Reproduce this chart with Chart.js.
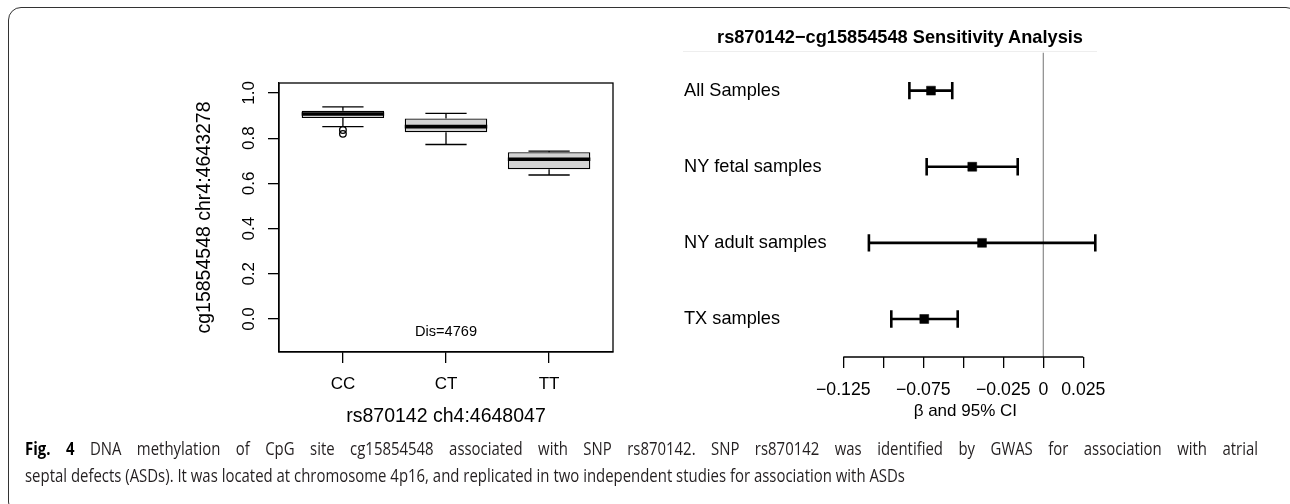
<!DOCTYPE html>
<html><head><meta charset="utf-8">
<script src="https://cdn.jsdelivr.net/npm/chart.js@4.4.1/dist/chart.umd.min.js"></script>
<style>
html,body{margin:0;padding:0;background:#fff;width:1290px;height:504px;overflow:hidden;position:relative;}
#frame{position:absolute;left:8px;top:7px;width:1291px;height:508px;border:1.5px solid #333;border-radius:13px;box-sizing:border-box;}
canvas{position:absolute;left:0;top:0;}
#ptitle{position:absolute;left:700px;width:400px;top:26.6px;text-align:center;font-family:'Liberation Sans',Arial,Helvetica,sans-serif;font-weight:bold;font-size:18.2px;line-height:20px;color:#000;white-space:nowrap;}
#faint{position:absolute;left:683px;top:51px;width:414px;height:0;border-top:1px solid #eeeeee;}
#cap{position:absolute;left:25px;top:434px;font-family:'Open Sans',sans-serif;font-size:18.5px;line-height:27px;color:#231f20;white-space:nowrap;transform-origin:0 0;}
#cap b{font-weight:bold;color:#000;}
.ln{display:inline-block;}
</style>
</head><body>
<div id="frame"></div>
<div id="faint"></div>
<canvas id="c1" width="1290" height="504"></canvas>
<canvas id="c2" width="1290" height="504"></canvas>
<div id="ptitle">rs870142−cg15854548 Sensitivity Analysis</div>
<div id="cap"><span class="ln" id="l1"><b>Fig. 4</b> DNA methylation of CpG site cg15854548 associated with SNP rs870142. SNP rs870142 was identified by GWAS for association with atrial</span><br><span class="ln" id="l2">septal defects (ASDs). It was located at chromosome 4p16, and replicated in two independent studies for association with ASDs</span></div>
<script>
// ---------- Box plot data ----------
const groups = ['CC', 'CT', 'TT'];
const whiskerLow  = [0.851, 0.772, 0.637];
const q1          = [0.889, 0.826, 0.663];
const median      = [0.907, 0.851, 0.707];
const q3          = [0.921, 0.887, 0.738];
const whiskerHigh = [0.938, 0.910, 0.743];
const outlierGroup  = [1, 1];
const outlierValues = [0.836, 0.819];
const yTicksLeft = [0.0, 0.2, 0.4, 0.6, 0.8, 1.0];
const leftXTitle = 'rs870142 ch4:4648047';
const leftYTitle = 'cg15854548 chr4:4643278';
const boxNote = 'Dis=4769';
const boxNoteAt = [2, -0.056];

// ---------- Forest plot data ----------
const studies = ['All Samples', 'NY fetal samples', 'NY adult samples', 'TX samples'];
const beta   = [-0.0702, -0.0444, -0.0383, -0.0744];
const ciLow  = [-0.0837, -0.0729, -0.1090, -0.0950];
const ciHigh = [-0.0569, -0.0160,  0.0325, -0.0535];
const refValue = 0;
const xTicksRight = [-0.125, -0.1, -0.075, -0.05, -0.025, 0, 0.025];
const xTickLabelsRight = ['\u22120.125', '', '\u22120.075', '', '\u22120.025', '0', '0.025'];
const rightXTitle = '\u03b2 and 95% CI';

const F = "'Liberation Sans', Arial, Helvetica, sans-serif";
Chart.defaults.font.family = F;
Chart.defaults.color = '#000';
Chart.defaults.animation = false;
Chart.defaults.events = [];

// ----- derived datasets for box plot -----
const pos = groups.map((g, i) => i + 1);
const boxData = pos.map((x, i) => ({x, y: [q1[i], q3[i]]}));
const whiskerData = [];
pos.forEach((x, i) => {
  whiskerData.push({x, y: q3[i]}, {x, y: whiskerHigh[i]}, {x, y: null});
  whiskerData.push({x, y: q1[i]}, {x, y: whiskerLow[i]}, {x, y: null});
});
const capData = [];
pos.forEach((x, i) => { capData.push({x, y: whiskerLow[i]}, {x, y: whiskerHigh[i]}); });
const medianData = pos.map((x, i) => ({x, y: median[i]}));
const outlierData = outlierGroup.map((g, i) => ({x: g, y: outlierValues[i]}));

const unitPx = (ctx, u) => {
  const s = ctx.chart.scales.x;
  return Math.abs(s.getPixelForValue(1 + u) - s.getPixelForValue(1));
};

const framePlugin = {
  id: 'frameBox',
  afterDatasetsDraw(chart) {
    const {ctx, chartArea: a, scales} = chart;
    ctx.save();
    ctx.strokeStyle = '#000'; ctx.lineWidth = 1.3;
    ctx.strokeRect(a.left, a.top, a.right - a.left, a.bottom - a.top);
    ctx.fillStyle = '#000';
    ctx.font = '14.6px ' + F;
    ctx.textAlign = 'center'; ctx.textBaseline = 'middle';
    ctx.fillText(boxNote, scales.x.getPixelForValue(boxNoteAt[0]), scales.y.getPixelForValue(boxNoteAt[1]));
    ctx.restore();
  }
};

new Chart(document.getElementById('c1'), {
  type: 'bar',
  data: {
    datasets: [
      {type: 'bar', data: boxData, backgroundColor: '#d3d3d3', borderColor: '#000', borderWidth: 1.3,
       borderSkipped: false, barPercentage: 1, categoryPercentage: 0.8, grouped: false, order: 3},
      {type: 'line', data: whiskerData, borderColor: '#000', borderWidth: 1.3, pointRadius: 0, spanGaps: false, order: 4},
      {type: 'scatter', data: capData, pointStyle: 'line', pointRadius: ctx => unitPx(ctx, 0.2),
       borderColor: '#000', pointBorderColor: '#000', pointBorderWidth: 1.3, order: 2},
      {type: 'scatter', data: medianData, pointStyle: 'line', pointRadius: ctx => unitPx(ctx, 0.4),
       borderColor: '#000', pointBorderColor: '#000', pointBorderWidth: 3.6, order: 1},
      {type: 'scatter', data: outlierData, pointStyle: 'circle', pointRadius: 3.3,
       pointBackgroundColor: 'rgba(0,0,0,0)', pointBorderColor: '#000', pointBorderWidth: 1.3, order: 0}
    ]
  },
  options: {
    responsive: false,
    devicePixelRatio: 1,
    layout: {padding: {left: 180, right: 677, top: 83, bottom: 72}},
    plugins: {legend: {display: false}, tooltip: {enabled: false}},
    scales: {
      x: {
        type: 'linear', min: 0.38, max: 3.62, offset: false,
        afterBuildTicks: s => { s.ticks = pos.map(v => ({value: v})); },
        afterFit: s => { s.height = 80; },
        ticks: {callback: v => groups[Math.round(v) - 1], font: {size: 17}, color: '#000', padding: 10.8, autoSkip: false, maxRotation: 0},
        grid: {offset: false, drawOnChartArea: false, drawTicks: true, tickLength: 11, color: '#000', lineWidth: 1.3},
        border: {display: true, color: '#000', width: 1.3},
        title: {display: true, text: leftXTitle, font: {size: 19.5}, color: '#000', padding: {top: 0, bottom: 3.3}}
      },
      y: {
        type: 'linear', min: -0.146, max: 1.044, beginAtZero: false,
        afterBuildTicks: s => { s.ticks = yTicksLeft.map(v => ({value: v})); },
        afterFit: s => { s.width = 99; },
        ticks: {callback: v => v.toFixed(1), minRotation: 90, maxRotation: 90, crossAlign: 'center', padding: 7.2, font: {size: 17}, color: '#000'},
        grid: {drawOnChartArea: false, drawTicks: true, tickLength: 11, color: '#000', lineWidth: 1.3},
        border: {display: true, color: '#000', width: 1.3},
        title: {display: true, text: leftYTitle, font: {size: 19.5}, color: '#000', padding: {top: 13.3, bottom: 0}}
      }
    }
  },
  plugins: [framePlugin]
});

// ----- forest plot -----
const rows = studies.map((s, i) => i + 1);
const rowRange = [0.5, studies.length + 0.5];
const zeroLine = rowRange.map(y => ({x: refValue, y}));
const ciData = [];
rows.forEach((r, i) => { ciData.push({x: ciLow[i], y: r}, {x: ciHigh[i], y: r}, {x: null, y: null}); });
const ciCaps = [];
rows.forEach((r, i) => { ciCaps.push({x: ciLow[i], y: r}, {x: ciHigh[i], y: r}); });
const estData = rows.map((r, i) => ({x: beta[i], y: r}));

const axisLinePlugin = {
  id: 'axisLine',
  afterDraw(chart) {
    const {ctx, chartArea: a, scales: {x}} = chart;
    ctx.save();
    ctx.strokeStyle = '#000'; ctx.lineWidth = 1.3;
    ctx.beginPath();
    ctx.moveTo(x.getPixelForValue(xTicksRight[0]), a.bottom);
    ctx.lineTo(x.getPixelForValue(xTicksRight[xTicksRight.length - 1]), a.bottom);
    ctx.stroke();
    ctx.restore();
  }
};

new Chart(document.getElementById('c2'), {
  type: 'scatter',
  data: {
    datasets: [
      {type: 'line', data: zeroLine, borderColor: '#8a8a8a', borderWidth: 1.2, pointRadius: 0, order: 5},
      {type: 'line', data: ciData, borderColor: '#000', borderWidth: 2.6, pointRadius: 0, spanGaps: false, order: 3},
      {type: 'scatter', data: ciCaps, pointStyle: 'line', rotation: 90, pointRadius: 8.7,
       borderColor: '#000', pointBorderColor: '#000', pointBorderWidth: 2.6, order: 2},
      {type: 'scatter', data: estData, pointStyle: 'rect', pointRadius: 6.3,
       pointBackgroundColor: '#000', pointBorderColor: '#000', pointBorderWidth: 0.5, order: 1}
    ]
  },
  options: {
    responsive: false,
    devicePixelRatio: 1,
    layout: {padding: {left: 684, right: 188.3, top: 52.6, bottom: 67}},
    plugins: {legend: {display: false}, tooltip: {enabled: false}},
    scales: {
      x: {
        type: 'linear', min: -0.134, max: 0.0365,
        afterBuildTicks: s => { s.ticks = xTicksRight.map(v => ({value: v})); },
        afterFit: s => { s.height = 80; },
        ticks: {callback: (v, i) => xTickLabelsRight[i], autoSkip: false, maxRotation: 0, font: {size: 17.7}, color: '#000', padding: 11.4},
        grid: {drawOnChartArea: false, drawTicks: true, tickLength: 11, color: '#000', lineWidth: 1.3},
        border: {display: false},
        title: {display: true, text: rightXTitle, font: {size: 17}, color: '#000', padding: {top: 0, bottom: 15.8}}
      },
      y: {
        type: 'linear', reverse: true, min: rowRange[0], max: rowRange[1],
        afterBuildTicks: s => { s.ticks = rows.map(v => ({value: v})); },
        afterFit: s => { s.width = 144.9; },
        ticks: {callback: v => studies[Math.round(v) - 1], crossAlign: 'far', font: {size: 18.2}, color: '#000', autoSkip: false},
        grid: {display: false},
        border: {display: false}
      }
    }
  },
  plugins: [axisLinePlugin]
});

// caption: condensed face; last line sets the width, first line justified to full measure
(function () {
  const cap = document.getElementById('cap');
  const l1 = document.getElementById('l1');
  const l2 = document.getElementById('l2');
  const w1 = l1.getBoundingClientRect().width;
  const w2 = l2.getBoundingClientRect().width;
  const s = 880 / w2;
  const spaces = (l1.textContent.match(/ /g) || []).length;
  l1.style.wordSpacing = Math.max(0, (1233 / s - w1) / spaces) + 'px';
  cap.style.transform = 'scaleX(' + s + ')';
})();
</script>
</body></html>
